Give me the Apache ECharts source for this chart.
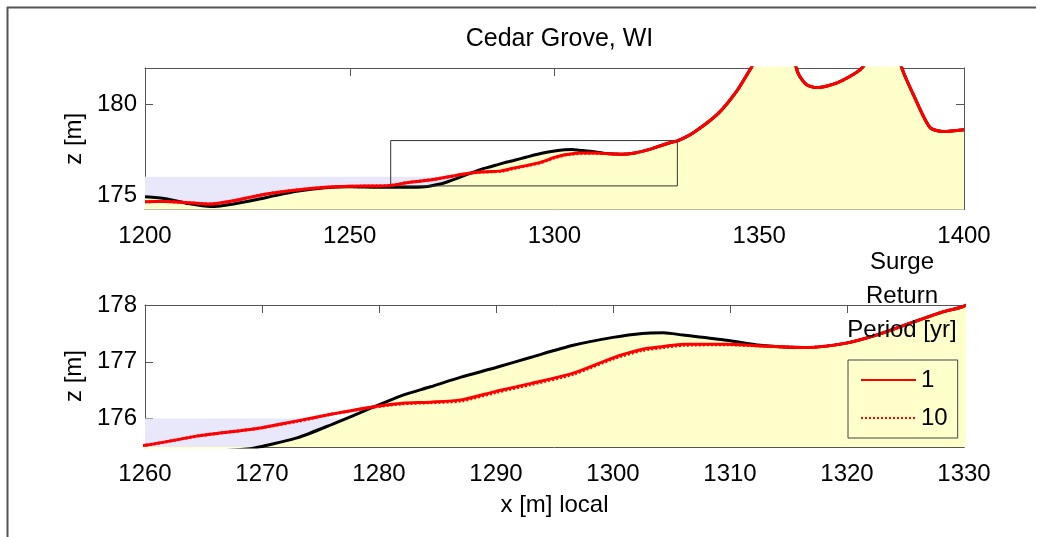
<!DOCTYPE html>
<html>
<head>
<meta charset="utf-8">
<script src="https://cdn.jsdelivr.net/npm/echarts@6/dist/echarts.min.js"></script>
<style>
html,body{margin:0;padding:0;background:#fff;}
#chart{width:1052px;height:537px;}
</style>
</head>
<body>
<div id="chart"></div>
<script>
// ---- data ----
const xs = [1200,1205,1210,1216,1222,1230,1237,1244,1250,1257,1260,1264.7,1269,1270,1273,1276,1279.5,1282,1284.4,1287,1290,1293,1296.6,1300,1302.5,1304.3,1306,1309.7,1312.6,1316.3,1319.7,1322.5,1325.4,1328.2,1330,1334,1340,1344.5,1348,1352,1355,1357.5,1359.5,1361.5,1364,1369,1374.6,1378,1381,1383.5,1385.5,1387.6,1391.7,1395,1400];
const zPre = [174.90,174.80,174.55,174.36,174.52,174.88,175.20,175.40,175.45,175.42,175.42,175.42,175.47,175.51,175.66,175.90,176.20,176.41,176.56,176.73,176.90,177.08,177.29,177.43,177.50,177.51,177.47,177.38,177.29,177.25,177.32,177.47,177.68,177.88,177.98,178.45,179.50,180.73,182.00,183.40,183.80,183.20,181.70,181.09,180.92,181.18,181.90,182.80,183.20,182.70,181.60,180.55,178.72,178.50,178.60];
const z1yr = [174.63,174.64,174.58,174.50,174.70,175.07,175.28,175.42,175.48,175.50,175.53,175.70,175.81,175.84,175.96,176.08,176.21,176.27,176.29,176.33,176.48,176.62,176.80,177.07,177.22,177.27,177.31,177.31,177.28,177.25,177.32,177.47,177.68,177.88,177.98,178.45,179.50,180.73,182.00,183.40,183.80,183.20,181.70,181.09,180.92,181.18,181.90,182.80,183.20,182.70,181.60,180.55,178.72,178.50,178.60];
const z10yr = [174.63,174.64,174.58,174.50,174.70,175.07,175.28,175.42,175.48,175.50,175.53,175.70,175.81,175.84,175.95,176.08,176.20,176.26,176.28,176.31,176.46,176.60,176.78,177.05,177.20,177.25,177.29,177.30,177.28,177.25,177.32,177.47,177.68,177.88,177.98,178.45,179.50,180.73,182.00,183.40,183.80,183.20,181.70,181.09,180.92,181.18,181.90,182.80,183.20,182.70,181.60,180.55,178.72,178.50,178.60];
const waterX = [1200, 1400];
const waterZ = [176, 176];
const returnPeriods = ['1', '10'];
const topXTicks = [1200, 1250, 1300, 1350, 1400];
const topYTicks = [175, 180];
const botXTicks = [1260, 1270, 1280, 1290, 1300, 1310, 1320, 1330];
const botYTicks = [176, 177, 178];
// zoom window outline (bottom panel extent) drawn in the top panel
const boxX = [1260, 1260, 1330, 1330, 1260];
const boxZ = [175.5, 178, 178, 175.5, 175.5];

// ---- styling ----
const FONT = "'Liberation Sans', Arial, Helvetica, sans-serif";
const AX = '#555';
const YELLOW = '#FFFFCC';
const BLUE = '#E8E8FA';
const LW = 3;
const pairs = (xa, ya) => xa.map((x, i) => [x, ya[i]]);
const plain = v => String(v);

function xAx(grid, pos, min, max, ticks, showLabels, extra) {
  return Object.assign({
    type: 'value', gridIndex: grid, position: pos, min: min, max: max,
    axisLine: {show: true, onZero: false, lineStyle: {color: AX, width: 1}},
    axisTick: {show: true, inside: true, length: 8, customValues: ticks, lineStyle: {color: AX}},
    axisLabel: {show: showLabels, customValues: ticks, formatter: plain, fontSize: 24, color: '#000', fontFamily: FONT, margin: 15},
    splitLine: {show: false}
  }, extra || {});
}
function yAx(grid, pos, min, max, ticks, showLabels, extra) {
  return Object.assign({
    type: 'value', gridIndex: grid, position: pos, min: min, max: max,
    axisLine: {show: true, onZero: false, lineStyle: {color: AX, width: 1}},
    axisTick: {show: true, inside: true, length: 8, customValues: ticks, lineStyle: {color: AX}},
    axisLabel: {show: showLabels, customValues: ticks, formatter: plain, fontSize: 24, color: '#000', fontFamily: FONT, margin: 8},
    splitLine: {show: false}
  }, extra || {});
}

function seriesFor(grid, withBox) {
  const xi = grid * 2, yi = grid * 2;
  const s = [
    {name: 'water', type: 'line', xAxisIndex: xi, yAxisIndex: yi, data: pairs(waterX, waterZ),
     symbol: 'none', lineStyle: {width: 0}, areaStyle: {color: BLUE, opacity: 1, origin: 'start'},
     silent: true, clip: true, z: 1},
    {name: 'pre', type: 'line', xAxisIndex: xi, yAxisIndex: yi, data: pairs(xs, zPre),
     symbol: 'none', smooth: 0.25, lineStyle: {color: '#000', width: LW},
     areaStyle: {color: YELLOW, opacity: 1, origin: 'start'}, silent: true, clip: true, z: 2}
  ];
  if (withBox) {
    s.push({name: 'box', type: 'line', xAxisIndex: xi, yAxisIndex: yi, data: pairs(boxX, boxZ),
      symbol: 'none', lineStyle: {color: '#333', width: 1}, silent: true, clip: true, z: 3});
  }
  s.push(
    {name: '10', type: 'line', xAxisIndex: xi, yAxisIndex: yi, data: pairs(xs, z10yr),
     symbol: 'none', smooth: 0.25, color: '#FF0000', lineStyle: {color: '#FF0000', width: LW, type: [2, 2]},
     clip: true, z: 4},
    {name: '1', type: 'line', xAxisIndex: xi, yAxisIndex: yi, data: pairs(xs, z1yr),
     symbol: 'none', smooth: 0.25, color: '#FF0000', lineStyle: {color: '#FF0000', width: LW},
     clip: true, z: 5}
  );
  return s;
}

const chart = echarts.init(document.getElementById('chart'), null, {renderer: 'canvas'});
chart.setOption({
  animation: false,
  backgroundColor: '#fff',
  textStyle: {fontFamily: FONT},
  title: [{
    text: 'Cedar Grove, WI', left: 554.5, top: 22, textAlign: 'center',
    textStyle: {fontSize: 25, fontWeight: 'normal', color: '#000', fontFamily: FONT}
  }],
  grid: [
    {left: 145, right: 88, top: 68, height: 141.5},
    {left: 145, right: 88, top: 305, height: 142}
  ],
  xAxis: [
    xAx(0, 'bottom', 1200, 1400, topXTicks, true),
    xAx(0, 'top', 1200, 1400, topXTicks, false),
    xAx(1, 'bottom', 1260, 1330, botXTicks, true,
        {name: 'x [m] local', nameLocation: 'middle', nameGap: 46,
         nameTextStyle: {fontSize: 24, color: '#000', fontFamily: FONT}}),
    xAx(1, 'top', 1260, 1330, botXTicks, false)
  ],
  yAxis: [
    yAx(0, 'left', 174.2, 182, topYTicks, true,
        {name: 'z [m]', nameLocation: 'middle', nameGap: 56, nameRotate: 90,
         nameTextStyle: {fontSize: 24, color: '#000', fontFamily: FONT}}),
    yAx(0, 'right', 174.2, 182, topYTicks, false),
    yAx(1, 'left', 175.5, 178, botYTicks, true,
        {name: 'z [m]', nameLocation: 'middle', nameGap: 56, nameRotate: 90,
         nameTextStyle: {fontSize: 24, color: '#000', fontFamily: FONT}}),
    yAx(1, 'right', 175.5, 178, botYTicks, false)
  ],
  legend: {
    data: returnPeriods, orient: 'vertical', left: 848, top: 360,
    itemWidth: 55, itemHeight: 14, itemGap: 14, padding: [8, 10, 8, 12],
    borderColor: '#444', borderWidth: 1, backgroundColor: 'rgba(0,0,0,0)',
    itemStyle: {color: 'rgba(0,0,0,0)', borderWidth: 0, opacity: 0},
    textStyle: {fontSize: 24, color: '#000', fontFamily: FONT},
    selectedMode: false
  },
  graphic: [
    {type: 'text', x: 902, y: 245, z: 100,
     style: {text: 'Surge\nReturn\nPeriod [yr]', align: 'center', verticalAlign: 'top',
             font: "24px 'Liberation Sans', Arial, sans-serif", lineHeight: 34, fill: '#000'}},
    {type: 'line', shape: {x1: 7, y1: 7.5, x2: 1036, y2: 7.5}, style: {stroke: '#555', lineWidth: 2}, silent: true},
    {type: 'line', shape: {x1: 7.5, y1: 7, x2: 7.5, y2: 537}, style: {stroke: '#555', lineWidth: 2}, silent: true}
  ],
  series: seriesFor(0, true).concat(seriesFor(1, false))
});
</script>
</body>
</html>
